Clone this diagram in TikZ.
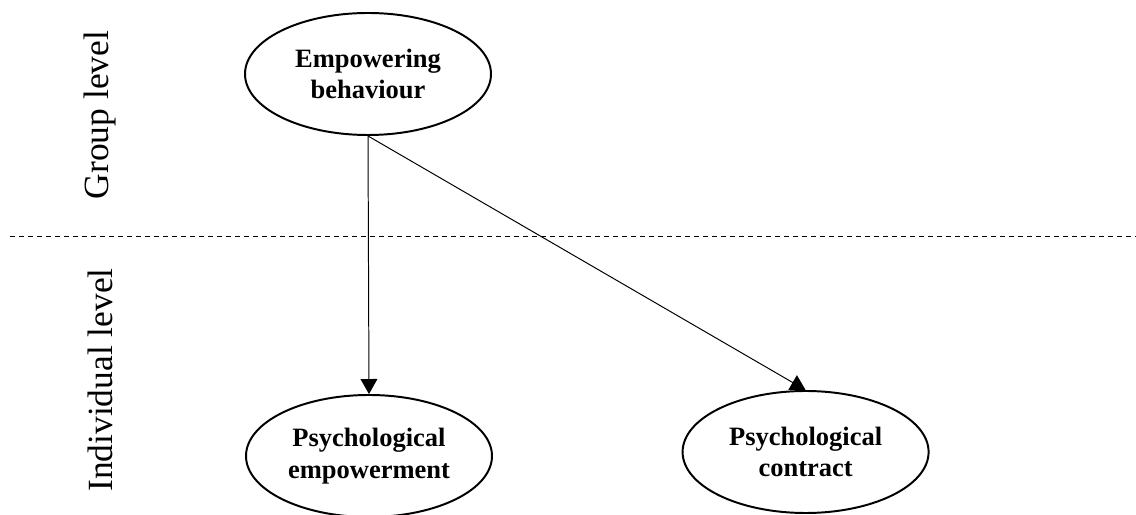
\documentclass[tikz,border=0pt]{standalone}
\usepackage{fontspec}
\setmainfont{Liberation Serif}
\usetikzlibrary{shapes.geometric,arrows.meta}

\begin{document}
\begin{tikzpicture}[line width=0.7pt]
	\tikzstyle{every node} = [align=center]
	\tikzstyle{construct} = [ellipse, draw, line width=1.4pt, minimum width=6.15cm, minimum height=3.05cm, inner sep=0pt, font=\bfseries\fontsize{18.85}{22.5}\selectfont]
	\tikzstyle{level} = [rotate=90, font=\fontsize{25.2}{30}\selectfont]
	\tikzstyle{link} = [-{Triangle[length=0.375cm,width=0.42cm]}]
	\useasboundingbox (0,0) rectangle (28.4,12.875);
	
	% levels
	\draw [dash pattern=on 0.125cm off 0.1cm] (0.25,6.975) coordinate (divleft) -- (28.4,6.975) coordinate (divright);
	\node (group) [level] at (2.5,10.0) {Group level};
	\node (individual) [level] at (2.5,3.375) {Individual level};
	
	% constructs
	\node (eb) [construct] at (9.2,11.025) {Empowering\\behaviour};
	\node (pe) [construct] at (9.225,1.475) {Psychological\\empowerment};
	\node (pc) [construct] at (20.14,1.575) {Psychological\\contract};
	
	\draw [link] (eb.south) -- (pe.north);
	\draw [link] (eb.south) -- (pc.north);
\end{tikzpicture}
\end{document}
